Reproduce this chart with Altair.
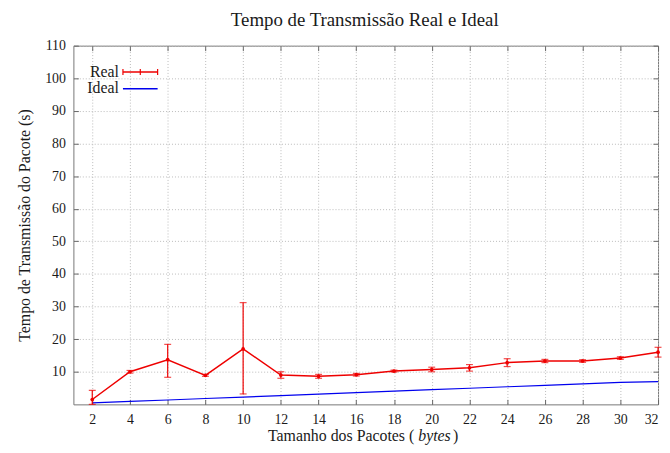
import altair as alt
import pandas as pd

sizes = [2, 4, 6, 8, 10, 12, 14, 16, 18, 20, 22, 24, 26, 28, 30, 32]
real = [1.5, 10.0, 13.7, 8.9, 17.0, 9.0, 8.6, 9.1, 10.2, 10.7, 11.2, 12.8, 13.3, 13.3, 14.2, 16.0]
real_lo = [0.0, 9.6, 8.3, 8.6, 3.2, 8.0, 8.0, 8.7, 9.9, 10.0, 10.2, 11.6, 12.8, 12.9, 13.8, 14.5]
real_hi = [4.3, 10.4, 18.4, 9.2, 31.2, 10.0, 9.2, 9.5, 10.5, 11.4, 12.2, 14.0, 13.8, 13.7, 14.6, 17.5]
ideal = [0.45, 0.9, 1.35, 1.8, 2.25, 2.7, 3.15, 3.6, 4.05, 4.5, 4.95, 5.4, 5.85, 6.3, 6.75, 7.0]

df = pd.DataFrame({"x": sizes, "real": real, "lo": real_lo, "hi": real_hi, "ideal": ideal})

FONT = "Liberation Serif"
TXT = "#1a1a1a"
W, H = 590, 362
xs = alt.Scale(domain=[1, 32], nice=False, zero=False)
ys = alt.Scale(domain=[0, 110], nice=False)
xvals = list(range(2, 33, 2))
yvals = list(range(10, 111, 10))

base = alt.Chart(df)

# main axes with labels and grid
ideal_line = base.mark_line(color="#0000ee", strokeWidth=1.2).encode(
    x=alt.X("x:Q", scale=xs, axis=alt.Axis(values=xvals, title=None, grid=True, gridColor="#bbbbbb",
                                             gridDash=[1, 2], domain=False, ticks=False, labelPadding=8,
                                             labelFont=FONT, labelFontSize=14, labelColor=TXT)),
    y=alt.Y("ideal:Q", scale=ys, axis=alt.Axis(values=yvals, title="Tempo de Transmissão do Pacote (s)",
                                                 grid=True, gridColor="#bbbbbb", gridDash=[1, 2], domain=False,
                                                 ticks=False, labelPadding=8, labelFont=FONT, labelFontSize=14,
                                                 labelColor=TXT, titleFont=FONT, titleFontSize=16,
                                                 titleFontWeight="normal", titleColor=TXT, titlePadding=12)),
)

# inward ticks bottom/left
real_line = base.mark_line(color="#ee0000", strokeWidth=1.5).encode(
    x=alt.X("x:Q", scale=xs, axis=alt.Axis(values=xvals, orient="bottom", labels=False, title=None, grid=False,
                                             domain=False, tickSize=5, offset=-5, tickColor="#666")),
    y=alt.Y("real:Q", scale=ys, axis=alt.Axis(values=yvals, orient="left", labels=False, title=None, grid=False,
                                                domain=False, tickSize=5, offset=-5, tickColor="#666")),
)

# inward ticks top/right
real_pts = base.mark_point(color="#ee0000", filled=True, size=14, opacity=1).encode(
    x=alt.X("x:Q", scale=xs, axis=alt.Axis(values=xvals, orient="top", labels=False, title=None, grid=False,
                                             domain=False, tickSize=5, offset=-5, tickColor="#666")),
    y=alt.Y("real:Q", scale=ys, axis=alt.Axis(values=yvals, orient="right", labels=False, title=None, grid=False,
                                                domain=False, tickSize=5, offset=-5, tickColor="#666")),
)

err = base.mark_rule(color="#ee0000", strokeWidth=1.2).encode(
    x=alt.X("x:Q", scale=xs, axis=None),
    y=alt.Y("lo:Q", scale=ys, axis=None),
    y2="hi:Q",
)
cap_lo = base.mark_tick(color="#ee0000", orient="horizontal", size=7, thickness=1.2).encode(
    x=alt.X("x:Q", scale=xs, axis=None), y=alt.Y("lo:Q", scale=ys, axis=None))
cap_hi = base.mark_tick(color="#ee0000", orient="horizontal", size=7, thickness=1.2).encode(
    x=alt.X("x:Q", scale=xs, axis=None), y=alt.Y("hi:Q", scale=ys, axis=None))

one = alt.Chart(pd.DataFrame({"a": [0]}))

title = one.mark_text(text="Tempo de Transmissão Real e Ideal", font=FONT, fontSize=19, color=TXT,
                      align="center", baseline="alphabetic").encode(x=alt.value(294), y=alt.value(-20))
xt1 = one.mark_text(text="Tamanho dos Pacotes (", font=FONT, fontSize=16, color=TXT,
                    align="right", baseline="alphabetic").encode(x=alt.value(344), y=alt.value(399))
xt2 = one.mark_text(text="bytes", font=FONT, fontSize=16, fontStyle="italic", color=TXT,
                    align="left", baseline="alphabetic").encode(x=alt.value(348), y=alt.value(399))
xt3 = one.mark_text(text=")", font=FONT, fontSize=16, color=TXT,
                    align="left", baseline="alphabetic").encode(x=alt.value(383), y=alt.value(399))

# legend
lg_real_t = one.mark_text(text="Real", font=FONT, fontSize=16, color=TXT, align="right",
                          baseline="middle").encode(x=alt.value(46), y=alt.value(26.5))
lg_ideal_t = one.mark_text(text="Ideal", font=FONT, fontSize=16, color=TXT, align="right",
                           baseline="middle").encode(x=alt.value(46), y=alt.value(43))
lg_real_l = one.mark_rule(color="#ee0000", strokeWidth=1.5).encode(
    x=alt.value(50), x2=alt.value(85), y=alt.value(26.5))
lg_real_c = alt.Chart(pd.DataFrame({"px": [50, 67.5, 85]})).mark_rule(color="#ee0000", strokeWidth=1.2).encode(
    x=alt.X("px:Q", scale=None), y=alt.value(23.5), y2=alt.value(29.5))
lg_ideal_l = one.mark_rule(color="#0000ee", strokeWidth=1.5).encode(
    x=alt.value(50), x2=alt.value(85), y=alt.value(43.5))

chart = alt.layer(
    ideal_line, real_line, real_pts, err, cap_lo, cap_hi,
    title, xt1, xt2, xt3, lg_real_t, lg_ideal_t, lg_real_l, lg_real_c, lg_ideal_l,
).resolve_axis(x="independent", y="independent").properties(
    width=W, height=H,
    autosize=alt.AutoSizeParams(type="none"),
    padding={"left": 66, "top": 36, "right": 4, "bottom": 40},
).configure_view(stroke="#777", strokeWidth=1).configure_axis(
    labelFont=FONT, labelFontSize=14, labelColor=TXT,
    titleFont=FONT, titleFontSize=16, titleFontWeight="normal", titleColor=TXT,
).configure_text(font=FONT)

chart.save("out.html", embed_options={"renderer": "svg", "actions": False})
